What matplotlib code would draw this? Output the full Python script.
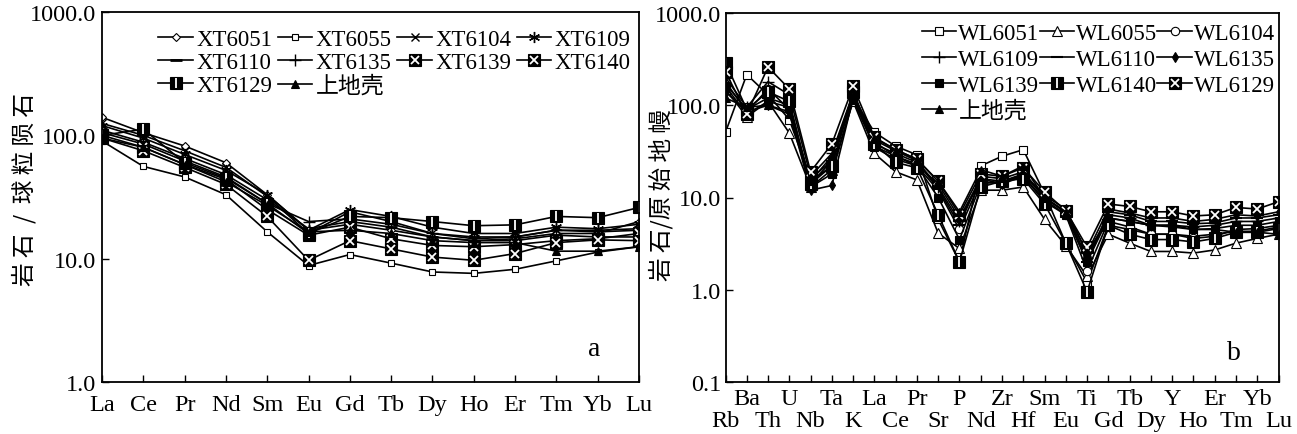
import matplotlib
matplotlib.use('Agg')
import matplotlib.pyplot as plt
from matplotlib.ticker import FixedLocator, FuncFormatter, NullLocator, FixedFormatter

plt.rcParams['font.family'] = ['Liberation Serif', 'Noto Sans CJK SC']
plt.rcParams['font.size'] = 16

# ---------------- data: panel a (chondrite-normalised REE) ----------------
ree = ['La', 'Ce', 'Pr', 'Nd', 'Sm', 'Eu', 'Gd', 'Tb', 'Dy', 'Ho', 'Er', 'Tm', 'Yb', 'Lu']
xt_names = ['XT6051', 'XT6055', 'XT6104', 'XT6109', 'XT6110',
            'XT6135', 'XT6139', 'XT6140', 'XT6129', '上地壳']
xt6051 = [140, 105, 82, 60, 33, 17, 19, 17, 15, 14, 14.5, 16, 16, 20]
xt6055 = [90, 56, 46, 33, 16.5, 8.8, 10.8, 9.2, 7.8, 7.6, 8.2, 9.6, 11.3, 12.5]
xt6104 = [125, 100, 75, 55, 32, 16, 24, 20, 16, 14.5, 15, 17, 16.5, 17]
xt6109 = [120, 95, 70, 52, 33, 17, 25, 22, 18, 16, 16, 18, 17.5, 19]
xt6110 = [110, 88, 65, 48, 30, 17.5, 20, 18, 15, 14, 14, 15.5, 15, 15]
xt6135 = [105, 85, 62, 46, 28, 20, 21, 19, 16, 15, 15, 17, 17, 17.5]
xt6139 = [100, 80, 58, 44, 25, 15.5, 18, 14.5, 12.8, 12.5, 13, 14, 14.5, 16]
xt6140 = [95, 75, 55, 40, 22, 9.7, 14, 12, 10.3, 9.7, 11, 13.5, 14.2, 14]
xt6129 = [100, 112, 60, 45, 28, 16, 22, 21.5, 20, 18.5, 18.8, 22, 21.5, 26]
xt_uc = [95, 80, 58, 42, 27, 16.5, 17, 16, 14, 13.5, 13.5, 11.5, 11.5, 12.5]
xt_values = [xt6051, xt6055, xt6104, xt6109, xt6110, xt6135, xt6139, xt6140, xt6129, xt_uc]

# ---------------- data: panel b (primitive-mantle-normalised spider) ----------------
spider = ['Rb', 'Ba', 'Th', 'U', 'Nb', 'Ta', 'K', 'La', 'Ce', 'Pr', 'Sr', 'P', 'Nd', 'Zr',
          'Hf', 'Sm', 'Eu', 'Ti', 'Gd', 'Tb', 'Dy', 'Y', 'Ho', 'Er', 'Tm', 'Yb', 'Lu']
wl_names = ['WL6051', 'WL6055', 'WL6104', 'WL6109', 'WL6110',
            'WL6135', 'WL6139', 'WL6140', 'WL6129', '上地壳']
wl6051 = [51, 215, 130, 70, 16, 25, 120, 51, 36, 29, 5.8, 2.0, 22, 28, 33, 11, 3.2, 1.2,
          5.0, 4.5, 4.0, 4.0, 3.8, 4.0, 4.3, 4.3, 4.8]
wl6055 = [150, 75, 110, 50, 13, 20, 110, 30, 19, 15.5, 4.1, 2.8, 12, 12, 13, 5.8, 3.0, 1.4,
          4.0, 3.2, 2.6, 2.6, 2.5, 2.7, 3.2, 3.6, 4.0]
wl6104 = [180, 85, 150, 90, 15, 22, 130, 40, 28, 22, 12, 4.5, 15, 14, 17, 9.0, 6.5, 1.6,
          5.5, 4.8, 4.0, 4.0, 3.6, 3.8, 4.5, 4.6, 5.0]
wl6109 = [200, 95, 180, 130, 17, 30, 135, 42, 32, 25, 13, 5.5, 16, 15, 18, 10, 7.0, 2.2,
          6.5, 6.0, 5.0, 5.0, 4.8, 5.0, 5.5, 5.5, 6.0]
wl6110 = [170, 90, 120, 100, 14, 25, 125, 38, 30, 24, 12.5, 5.0, 17, 16, 19, 10, 6.8, 2.0,
          7.0, 6.5, 5.5, 5.5, 5.2, 5.3, 6.0, 6.0, 6.5]
wl6135 = [140, 85, 100, 85, 12, 13.5, 120, 36, 28, 23, 14, 6.0, 16, 14, 18, 10.5, 7.5, 2.5,
          7.5, 6.8, 6.0, 6.0, 5.5, 5.8, 6.5, 6.3, 7.0]
wl6139 = [160, 80, 110, 95, 13, 18, 115, 35, 26, 22, 10, 3.5, 14, 15, 17, 9.5, 6.5, 2.0,
          6.0, 5.5, 5.0, 5.0, 4.5, 4.6, 5.0, 5.0, 5.5]
wl6140 = [290, 90, 140, 110, 14, 22, 140, 38, 24, 21, 6.5, 2.0, 13, 15, 16, 8.5, 3.2, 0.95,
          5.0, 4.0, 3.5, 3.5, 3.3, 3.6, 4.2, 4.2, 4.6]
wl6129 = [230, 80, 260, 150, 19, 38, 160, 45, 33, 26, 15, 6.5, 18, 17, 21, 11.5, 7.2, 2.9,
          8.5, 8.0, 7.0, 7.0, 6.3, 6.5, 7.8, 7.5, 9.0]
wl_uc = [120, 95, 100, 80, 15, 28, 130, 44, 33, 26, 15, 7.0, 20, 17, 22, 10, 7.0, 2.5,
         6.0, 5.5, 5.0, 4.8, 4.5, 4.5, 4.2, 4.2, 4.0]
wl_values = [wl6051, wl6055, wl6104, wl6109, wl6110, wl6135, wl6139, wl6140, wl6129, wl_uc]

# ---------------- styles ----------------
# (marker, size, facecolor, edgewidth, overlay marker, overlay size)
xt_styles = [
    ('D', 4.5, 'white', 0.8, None, 0),
    ('s', 5, 'white', 0.8, None, 0),
    ('x', 6, 'black', 1.0, None, 0),
    ((6, 2, 0), 8, 'black', 1.0, None, 0),
    ('_', 8, 'black', 2.0, None, 0),
    ('+', 9, 'black', 1.0, None, 0),
    ('s', 9, 'black', 0.8, 'x', 6),
    ('s', 9, 'black', 0.8, 'x', 6),
    ('s', 9, 'black', 0.8, '|', 7),
    ('^', 6, 'black', 0.8, None, 0),
]
wl_styles = [
    ('s', 6, 'white', 0.8, None, 0),
    ('^', 6.5, 'white', 0.8, None, 0),
    ('o', 6, 'white', 0.8, None, 0),
    ('+', 9, 'black', 1.0, None, 0),
    ('_', 8, 'black', 1.5, None, 0),
    ('d', 5, 'black', 0.8, None, 0),
    ('s', 6, 'black', 0.8, None, 0),
    ('s', 9, 'black', 0.8, '|', 7),
    ('s', 9, 'black', 0.8, 'x', 6),
    ('^', 6, 'black', 0.8, None, 0),
]


def draw(ax, x, y, style, label):
    m, ms, fc, mew, om, oms = style
    line, = ax.plot(x, y, color='black', lw=1.2, marker=m, ms=ms, mfc=fc,
                    mec='black', mew=mew, label=label)
    if om is not None:
        ov, = ax.plot(x, y, ls='none', marker=om, ms=oms, mec='white',
                      mfc='white', mew=1.3)
        return (line, ov)
    return line


W, H = 1297, 435
fig = plt.figure(figsize=(W / 100, H / 100), dpi=100)
axL = fig.add_axes([102 / W, 52 / H, 537 / W, 370 / H])
axR = fig.add_axes([725.5 / W, 52 / H, 553 / W, 369 / H])

TICK_FS = 17.5
LEG_FS = 16.5

# ---- panel a ----
xa = list(range(len(ree)))
hL = [draw(axL, xa, v, s, n) for v, s, n in zip(xt_values, xt_styles, xt_names)]
axL.set_yscale('log')
axL.set_ylim(1, 1000)
axL.set_xlim(0, len(ree) - 1)
axL.set_xticks(xa, ree)
axL.yaxis.set_major_locator(FixedLocator([1, 10, 100, 1000]))
axL.yaxis.set_minor_locator(NullLocator())
axL.yaxis.set_major_formatter(FuncFormatter(lambda v, p: f'{v:.1f}'))
axL.tick_params(axis='x', direction='in', length=5, width=1, pad=9, labelsize=TICK_FS)
axL.tick_params(axis='y', direction='in', length=5, width=1, pad=4, labelsize=TICK_FS)
orderL = [0, 4, 8, 1, 5, 9, 2, 6, 3, 7]
axL.legend([hL[i] for i in orderL], [xt_names[i] for i in orderL], ncol=4,
           loc='upper left', bbox_to_anchor=(0.105, 0.953), frameon=False,
           handlelength=1.5, handletextpad=0.15, columnspacing=0.25,
           labelspacing=0.08, borderpad=0, borderaxespad=0, fontsize=LEG_FS)
axL.text(0.916, 0.09, 'a', transform=axL.transAxes, fontsize=20, ha='center', va='center')

# ---- panel b ----
xb = list(range(len(spider)))
hR = [draw(axR, xb, v, s, n) for v, s, n in zip(wl_values, wl_styles, wl_names)]
axR.set_yscale('log')
axR.set_ylim(0.1, 1000)
axR.set_xlim(0, len(spider) - 1)
odd_pos = xb[1::2]
even_pos = xb[0::2]
axR.xaxis.set_major_locator(FixedLocator(odd_pos))
axR.xaxis.set_major_formatter(FixedFormatter(spider[1::2]))
axR.xaxis.set_minor_locator(FixedLocator(even_pos))
axR.xaxis.set_minor_formatter(FixedFormatter(spider[0::2]))
axR.yaxis.set_major_locator(FixedLocator([0.1, 1, 10, 100, 1000]))
axR.yaxis.set_minor_locator(NullLocator())
axR.yaxis.set_major_formatter(FuncFormatter(lambda v, p: f'{v:.1f}'))
axR.tick_params(axis='x', which='major', direction='in', length=5, width=1, pad=4,
                labelsize=TICK_FS)
axR.tick_params(axis='x', which='minor', direction='in', length=5, width=1, pad=20,
                labelsize=TICK_FS)
axR.tick_params(axis='y', direction='in', length=5, width=1, pad=3, labelsize=TICK_FS)
orderR = [0, 3, 6, 9, 1, 4, 7, 2, 5, 8]
axR.legend([hR[i] for i in orderR], [wl_names[i] for i in orderR], ncol=3,
           loc='upper left', bbox_to_anchor=(0.355, 0.972), frameon=False,
           handlelength=1.5, handletextpad=0.1, columnspacing=0.0,
           labelspacing=0.2, borderpad=0, borderaxespad=0, fontsize=LEG_FS)
axR.text(0.92, 0.08, 'b', transform=axR.transAxes, fontsize=20, ha='center', va='center')

for ax in (axL, axR):
    for sp in ax.spines.values():
        sp.set_linewidth(1.3)

fig.text(24 / W, 1 - 190 / H, '岩 石  /  球 粒 陨 石', rotation=90, ha='center', va='center',
         family=['Noto Sans CJK SC', 'DejaVu Sans'], fontsize=17)
fig.text(661 / W, 1 - 195 / H, '岩 石/原 始 地 幔', rotation=90, ha='center', va='center',
         family=['Noto Sans CJK SC', 'DejaVu Sans'], fontsize=17)

fig.savefig('out.png', dpi=100)
